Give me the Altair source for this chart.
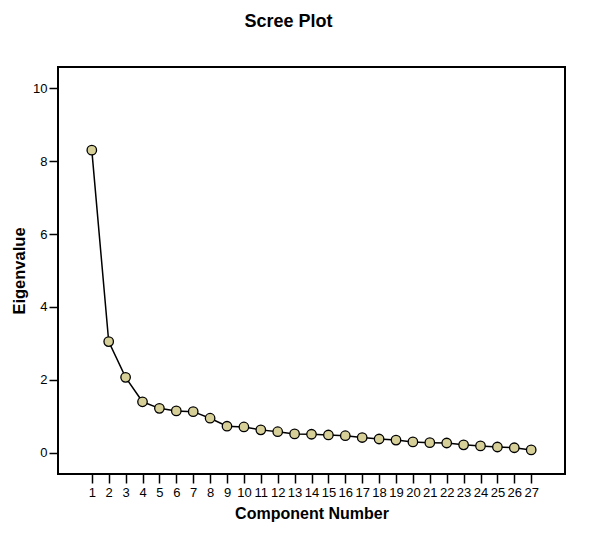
import altair as alt
import pandas as pd

components = list(range(1, 28))
eigenvalues = [8.30, 3.05, 2.07, 1.40, 1.22, 1.15, 1.13, 0.95, 0.73, 0.71,
               0.63, 0.58, 0.52, 0.51, 0.49, 0.47, 0.42, 0.38, 0.35, 0.30,
               0.28, 0.27, 0.22, 0.19, 0.16, 0.14, 0.08]
y_ticks = [0, 2, 4, 6, 8, 10]

df = pd.DataFrame({"Component Number": components, "Eigenvalue": eigenvalues})

FONT = "Liberation Sans"

x = alt.X("Component Number:Q",
          scale=alt.Scale(domain=[-1, 29], nice=False, zero=False),
          axis=alt.Axis(values=components, title="Component Number",
                        labelFontSize=13, labelColor="black", tickColor="black",
                        tickSize=9, tickWidth=1.5, domain=False, grid=False,
                        labelPadding=3, titleFontSize=16, titleFontWeight="bold",
                        titleColor="black", titlePadding=6, labelFont=FONT,
                        titleFont=FONT, labelFlush=False))
y = alt.Y("Eigenvalue:Q",
          scale=alt.Scale(domain=[-0.58, 10.58], nice=False, zero=False),
          axis=alt.Axis(values=y_ticks, title="Eigenvalue",
                        labelFontSize=13, labelColor="black", tickColor="black",
                        tickSize=9, tickWidth=1.5, domain=False, grid=False,
                        labelPadding=2, titleFontSize=16.5, titleFontWeight="bold",
                        titleColor="black", titlePadding=5, labelFont=FONT,
                        titleFont=FONT, labelFlush=False))

line = alt.Chart(df).mark_line(color="black", strokeWidth=1.5).encode(x=x, y=y)
pts = alt.Chart(df).mark_point(filled=True, fill="#d6cf98", stroke="black",
                               strokeWidth=1.3, size=90, opacity=1,
                               shape="circle").encode(x=x, y=y)

chart = (line + pts).properties(
    width=507, height=407,
    autosize=alt.AutoSizeParams(type="none"),
    padding={"left": 50, "top": 59, "right": 20, "bottom": 54},
    title=alt.TitleParams("Scree Plot", fontSize=18, fontWeight="bold",
                          font=FONT, color="black", anchor="middle",
                          dx=-23, offset=22, baseline="alphabetic"),
).configure_view(stroke="black", strokeWidth=2)

chart.save("out.html", embed_options={"renderer": "svg", "actions": False})
